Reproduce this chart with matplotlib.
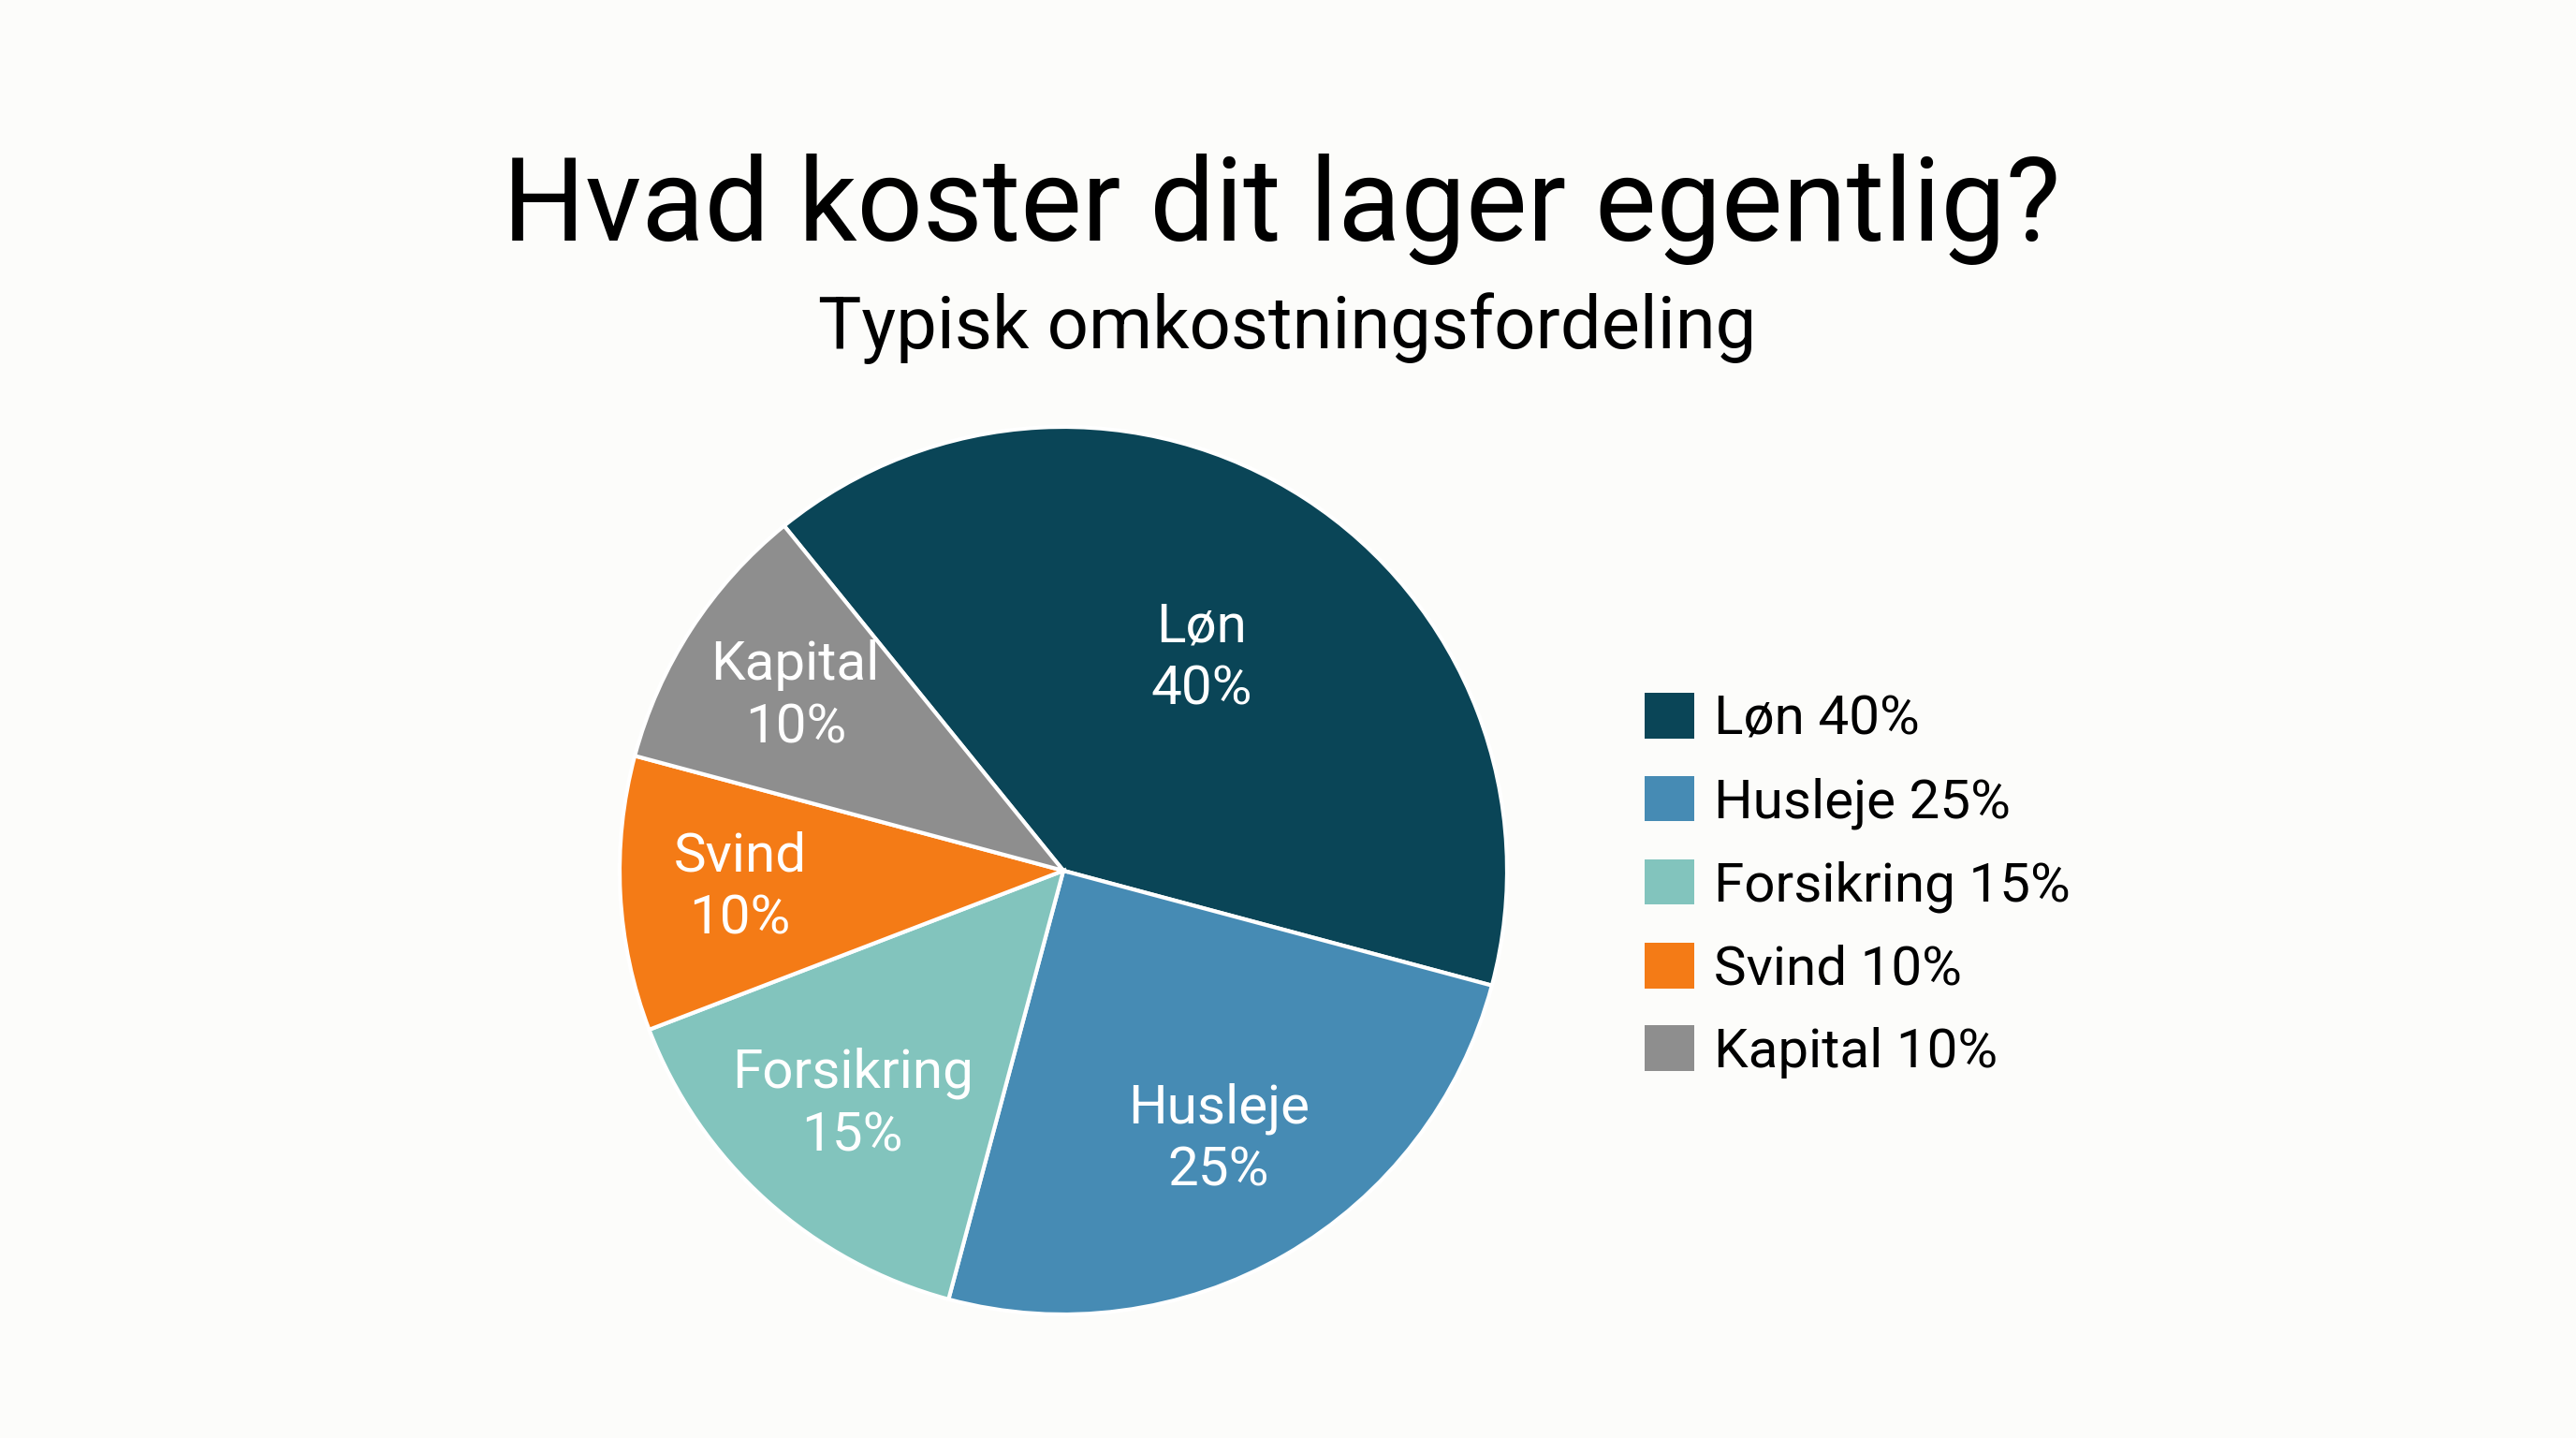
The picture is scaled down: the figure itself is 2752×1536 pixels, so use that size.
import matplotlib
matplotlib.use("Agg")
import matplotlib.pyplot as plt
from matplotlib.patches import Patch
import numpy as np

# data
categories = ["Løn", "Husleje", "Forsikring", "Svind", "Kapital"]
shares = [40, 25, 15, 10, 10]
colors = ["#0a4557", "#468bb4", "#82c4bd", "#f47b16", "#8e8e8e"]

title = "Hvad koster dit lager egentlig?"
subtitle = "Typisk omkostningsfordeling"

bg = "#fcfcfa"
plt.rcParams["font.family"] = ["Roboto", "DejaVu Sans"]

W, H = 2752, 1536
fig = plt.figure(figsize=(W / 100, H / 100), dpi=100, facecolor=bg)

# pie axes: center (1136, 930) px, radius 474 px
cx, cy, r = 1136, 930, 474
ax = fig.add_axes([(cx - r) / W, 1 - (cy + r) / H, 2 * r / W, 2 * r / H])
ax.set_facecolor(bg)
wedges, _ = ax.pie(shares, colors=colors, startangle=129, counterclock=False,
                   radius=1, wedgeprops=dict(edgecolor="white", linewidth=3))
ax.set_xlim(-1, 1)
ax.set_ylim(-1, 1)
ax.axis("off")

# labels inside wedges
label_dist = [0.57, 0.70, 0.71, 0.73, 0.72]
for w, name, val, d in zip(wedges, categories, shares, label_dist):
    ang = np.deg2rad((w.theta1 + w.theta2) / 2)
    ax.text(d * np.cos(ang), d * np.sin(ang), f"{name}\n{val}%",
            ha="center", va="center", color="white", fontsize=42,
            linespacing=1.28)

# titles
fig.text(1369 / W, 1 - 257 / H, title, ha="center", va="baseline",
         fontsize=89, color="black")
fig.text(1375 / W, 1 - 372 / H, subtitle, ha="center", va="baseline",
         fontsize=56, color="black")

# legend
handles = [Patch(facecolor=c, edgecolor="none") for c in colors]
labels = [f"{n} {v}%" for n, v in zip(categories, shares)]
fig.legend(handles, labels, loc="upper left",
           bbox_to_anchor=(1757 / W, 1 - 740 / H), frameon=False,
           fontsize=42, handlelength=0.91, handleheight=0.91,
           handletextpad=0.36, labelspacing=0.55, borderpad=0,
           borderaxespad=0)

fig.savefig("out.png", dpi=100, facecolor=bg)
